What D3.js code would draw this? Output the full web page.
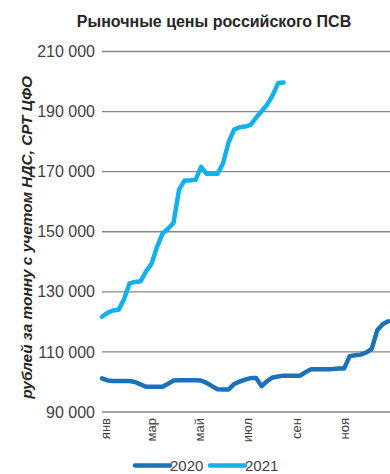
<!DOCTYPE html>
<html lang="ru">
<head>
<meta charset="utf-8">
<script src="https://cdn.jsdelivr.net/npm/d3@7"></script>
<style>
  html, body { margin: 0; padding: 0; background: #fff; }
  svg { display: block; font-family: "Liberation Sans", Arial, sans-serif; }
</style>
</head>
<body>
<svg id="chart" width="390" height="474"></svg>
<script>
// Weekly market prices, RUB per tonne incl. VAT (index = week of year)
const values2020 = [
  101200, 100500, 100300, 100300, 100300, 100300, 100000, 99200, 98400, 98400,
  98400, 98400, 99400, 100500, 100600, 100600, 100600, 100600, 100500, 99700,
  98600, 97600, 97500, 97500, 99300, 100100, 100800, 101300, 101300, 98600,
  100300, 101500, 101800, 102100, 102100, 102100, 102100, 103300, 104200, 104200,
  104200, 104200, 104300, 104500, 104500, 108600, 108900, 109100, 109800, 111000,
  117200, 119200, 120200
];
const values2021 = [
  121700, 123000, 123800, 124000, 127500, 132800, 133300, 133500, 136800, 139300,
  145000, 149400, 151000, 153000, 164000, 167100, 167100, 167300, 171600, 169300,
  169300, 169300, 172800, 179800, 184000, 184800, 185000, 185600, 188000, 190100,
  192300, 195400, 199500, 199700
];
const seriesNames = ["2020", "2021"];
const seriesColors = ["#1b72b8", "#12b0ec"];

// Month labels on the time axis (day of year of the 1st of the month)
const monthDays = [0, 59, 120, 181, 243, 304];
const monthLabels = ["янв", "мар", "май", "июл", "сен", "ноя"];

// Price axis ticks
const yTicks = [90000, 110000, 130000, 150000, 170000, 190000, 210000];

const titleText = "Рыночные цены российского ПСВ";
const yTitleText = "рублей за тонну с учетом НДС, СРТ ЦФО";

const svg = d3.select("#chart");
const W = 390, H = 474;
const plot = { left: 102, right: 389, top: 51.5, bottom: 412 };

const x = d3.scaleLinear().domain([0, 365]).range([plot.left, plot.right]);
const y = d3.scaleLinear().domain([90000, 210000]).range([plot.bottom, plot.top]);

const ru = d3.formatLocale({ decimal: ",", thousands: "\u00a0", grouping: [3], currency: ["", " ₽"] });
const fmt = ru.format(",d");

// Title
svg.append("text")
  .attr("x", 214).attr("y", 27)
  .attr("text-anchor", "middle")
  .attr("font-size", 16).attr("font-weight", "bold")
  .attr("fill", "#262626")
  .text(titleText);

// Horizontal gridlines
svg.append("g").selectAll("line").data(yTicks).join("line")
  .attr("x1", plot.left).attr("x2", W)
  .attr("y1", d => y(d)).attr("y2", d => y(d))
  .attr("stroke", "#878787").attr("stroke-width", 1.3);

// Y axis labels
const yAxis = d3.axisLeft(y).tickValues(yTicks).tickFormat(fmt).tickSize(0).tickPadding(7);
const gy = svg.append("g").attr("transform", `translate(${plot.left},0)`).call(yAxis);
gy.select(".domain").remove();
gy.selectAll("text").attr("font-size", 16).attr("fill", "#404040").attr("font-family", null);

// X axis labels (rotated)
const xAxis = d3.axisBottom(x).tickValues(monthDays).tickFormat((d, i) => monthLabels[i]).tickSize(0);
const gx = svg.append("g").attr("transform", `translate(0,${plot.bottom})`).call(xAxis);
gx.select(".domain").remove();
gx.selectAll("text")
  .attr("transform", "rotate(-90)")
  .attr("text-anchor", "end")
  .attr("x", -6).attr("y", 7.5).attr("dy", 0)
  .attr("font-size", 13).attr("fill", "#404040").attr("font-family", null);

// Y axis title
svg.append("text")
  .attr("transform", `translate(31.5,${237.5}) rotate(-90)`)
  .attr("text-anchor", "middle")
  .attr("font-size", 15.4).attr("font-weight", "bold").attr("font-style", "italic")
  .attr("fill", "#262626")
  .text(yTitleText);

// Lines
const line = d3.line()
  .x((d, i) => x(i * 7))
  .y(d => y(d))
  .curve(d3.curveLinear);

svg.append("clipPath").attr("id", "plotclip")
  .append("rect").attr("x", 0).attr("y", 0).attr("width", W).attr("height", H);

const series = [values2020, values2021];
svg.append("g").attr("clip-path", "url(#plotclip)")
  .selectAll("path").data(series).join("path")
  .attr("d", d => line(d))
  .attr("fill", "none")
  .attr("stroke", (d, i) => seriesColors[i])
  .attr("stroke-width", 4.5)
  .attr("stroke-linejoin", "round")
  .attr("stroke-linecap", "round");

// Legend
const legend = svg.append("g").attr("transform", "translate(135,465.5)");
const legendItems = [{ x0: 0, name: seriesNames[0], c: seriesColors[0] }, { x0: 75, name: seriesNames[1], c: seriesColors[1] }];
const li = legend.selectAll("g").data(legendItems).join("g")
  .attr("transform", d => `translate(${d.x0},0)`);
li.append("line")
  .attr("x1", 0).attr("x2", 35).attr("y1", 0).attr("y2", 0)
  .attr("stroke", d => d.c).attr("stroke-width", 4.5).attr("stroke-linecap", "round");
li.append("text")
  .attr("x", 35).attr("y", 0).attr("dy", "0.36em")
  .attr("font-size", 15).attr("fill", "#404040")
  .text(d => d.name);
</script>
</body>
</html>
